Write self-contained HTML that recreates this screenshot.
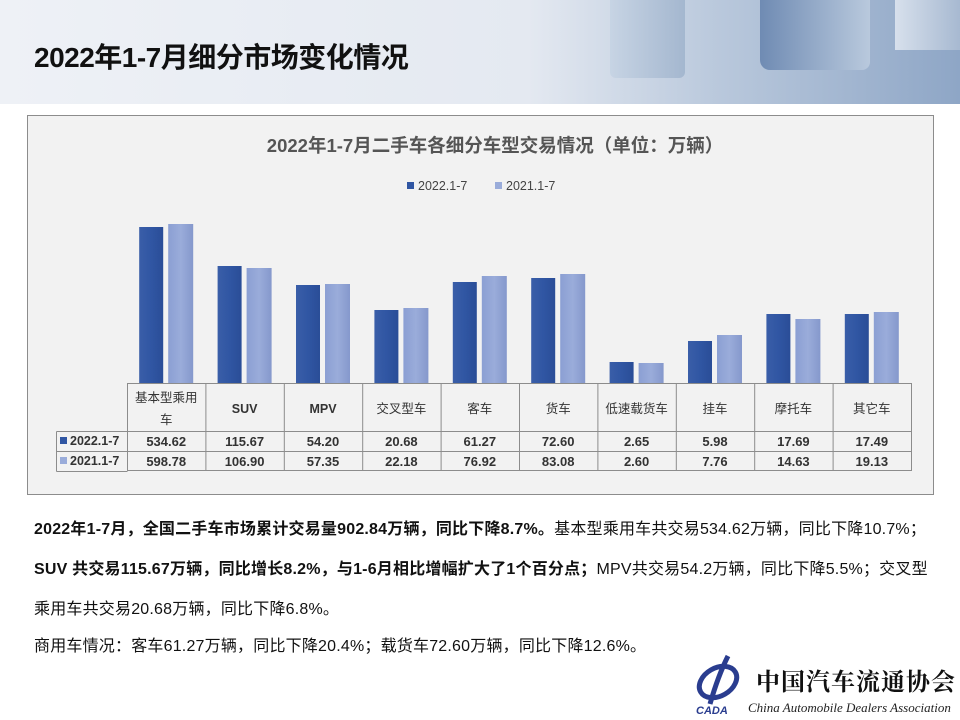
<!DOCTYPE html>
<html><head><meta charset="utf-8"><style>
body{margin:0;width:960px;height:720px;background:#fff;position:relative;overflow:hidden;font-family:"Liberation Sans","Noto Sans CJK SC",sans-serif}
.hdr{position:absolute;left:0;top:0;width:960px;height:104px;background:linear-gradient(90deg,#eef1f6 0%,#e4e9f1 55%,#b9c8dc 75%,#8ea6c6 100%)}
.t{position:absolute;left:34px;top:36px;font-size:28px;font-weight:bold;color:#111;letter-spacing:-0.5px}
.box{position:absolute;left:27px;top:115px;width:907px;height:380px;background:#f2f2f2;border:1px solid #8c8c8c;box-sizing:border-box}
.p{position:absolute;left:34px;font-size:16px;color:#111;white-space:nowrap;letter-spacing:0.2px}
b{font-weight:bold}
</style></head><body>
<div class="hdr">
<div style="position:absolute;left:610px;top:0;width:75px;height:78px;background:linear-gradient(90deg,#c7d4e4,#a4b7cf);border-radius:0 0 6px 6px"></div>
<div style="position:absolute;left:760px;top:0;width:110px;height:70px;background:linear-gradient(90deg,#6f8bb3,#b9c9dd);border-radius:0 0 8px 10px"></div>
<div style="position:absolute;left:895px;top:0;width:65px;height:50px;background:linear-gradient(90deg,#d7e0ec,#a7b9d1)"></div>
</div>
<div class="t">2022年1-7月细分市场变化情况</div>
<div class="box"></div>
<svg style="position:absolute;left:0;top:0" width="960" height="720" font-family="Liberation Sans,Noto Sans CJK SC,sans-serif">
<defs>
<linearGradient id="d" x1="0" x2="1"><stop offset="0" stop-color="#3a5ea8"/><stop offset="0.5" stop-color="#3056a3"/><stop offset="1" stop-color="#2a4d97"/></linearGradient>
<linearGradient id="l" x1="0" x2="1"><stop offset="0" stop-color="#8b9fd3"/><stop offset="0.5" stop-color="#9aacda"/><stop offset="1" stop-color="#8598cc"/></linearGradient>
</defs>
<text x="495" y="152" text-anchor="middle" font-size="18.5" font-weight="bold" fill="#555">2022年1-7月二手车各细分车型交易情况（单位：万辆）</text>
<rect x="407" y="182" width="7" height="7" fill="#3056a3"/><text x="418" y="190" font-size="12.5" fill="#444">2022.1-7</text>
<rect x="495" y="182" width="7" height="7" fill="#9aacda"/><text x="506" y="190" font-size="12.5" fill="#444">2021.1-7</text>
<g id="bars"></g>
<g stroke="#8c8c8c" stroke-width="1" fill="none">
<rect x="127.5" y="383.5" width="784" height="87"/>
<line x1="56.5" y1="431.5" x2="911.5" y2="431.5"/>
<line x1="56.5" y1="451.5" x2="911.5" y2="451.5"/>
<line x1="56.5" y1="431.5" x2="56.5" y2="471.5"/>
<line x1="56.5" y1="471.5" x2="127.5" y2="471.5"/>
</g>
<rect x="60" y="437" width="7" height="7" fill="#3056a3"/><text x="70" y="445" font-size="12.5" font-weight="bold" fill="#333">2022.1-7</text>
<rect x="60" y="457" width="7" height="7" fill="#9aacda"/><text x="70" y="465" font-size="12.5" font-weight="bold" fill="#333">2021.1-7</text>
</svg>
<div class="p" style="top:515px"><b>2022年1-7月，全国二手车市场累计交易量902.84万辆，同比下降8.7%。</b>基本型乘用车共交易534.62万辆，同比下降10.7%；</div>
<div class="p" style="top:555px"><b>SUV 共交易115.67万辆，同比增长8.2%，与1-6月相比增幅扩大了1个百分点；</b>MPV共交易54.2万辆，同比下降5.5%；交叉型</div>
<div class="p" style="top:595px">乘用车共交易20.68万辆，同比下降6.8%。</div>
<div class="p" style="top:632px">商用车情况：客车61.27万辆，同比下降20.4%；载货车72.60万辆，同比下降12.6%。</div>
<svg style="position:absolute;left:690px;top:652px" width="270" height="68">
<ellipse cx="28" cy="30" rx="20" ry="14" fill="none" stroke="#2a3d8f" stroke-width="5" transform="rotate(-30 28 30)"/>
<path d="M38 4 C30 20 24 38 20 52" stroke="#2a3d8f" stroke-width="5" fill="none"/>
<text x="6" y="62" font-size="11" font-weight="bold" font-style="italic" fill="#2a3d8f">CADA</text>
<text x="66" y="38" font-size="24" font-weight="bold" fill="#111" font-family="Noto Serif CJK SC,serif" letter-spacing="1">中国汽车流通协会</text>
<text x="58" y="60" font-size="13" font-style="italic" fill="#222" font-family="Liberation Serif,serif">China Automobile Dealers Association</text>
</svg>
<script>
var cats=["基本型乘用|车","SUV","MPV","交叉型车","客车","货车","低速载货车","挂车","摩托车","其它车"];
var a=["534.62","115.67","54.20","20.68","61.27","72.60","2.65","5.98","17.69","17.49"];
var b=["598.78","106.90","57.35","22.18","76.92","83.08","2.60","7.76","14.63","19.13"];
var ta=[227,266,285,310,282,278,362,341,314,314],tb=[224,268,284,308,276,274,363,335,319,312];
var s="",w=78.4;
for(var i=0;i<10;i++){var c=127+w*(i+0.5);
s+='<rect x="'+(c-27)+'" y="'+ta[i]+'" width="24" height="'+(383-ta[i])+'" fill="url(#d)"/>';
s+='<rect x="'+(c+2)+'" y="'+tb[i]+'" width="25" height="'+(383-tb[i])+'" fill="url(#l)"/>';
if(i>0)s+='<line x1="'+(127.5+w*i)+'" y1="383" x2="'+(127.5+w*i)+'" y2="471" stroke="#8c8c8c"/>';
var p=cats[i].split("|");
if(p.length>1){s+='<text x="'+c+'" y="402" text-anchor="middle" font-size="12.5" fill="#333">'+p[0]+'</text><text x="'+c+'" y="424" text-anchor="middle" font-size="12.5" fill="#333">'+p[1]+'</text>';}
else s+='<text x="'+c+'" y="413" text-anchor="middle" font-size="12.5" fill="#333" font-weight="'+(/^[A-Z]/.test(p[0])?'bold':'normal')+'">'+p[0]+'</text>';
s+='<text x="'+c+'" y="446" text-anchor="middle" font-size="13" font-weight="bold" fill="#333">'+a[i]+'</text>';
s+='<text x="'+c+'" y="466" text-anchor="middle" font-size="13" font-weight="bold" fill="#333">'+b[i]+'</text>';}
document.getElementById("bars").innerHTML=s;
</script>
</body></html>
